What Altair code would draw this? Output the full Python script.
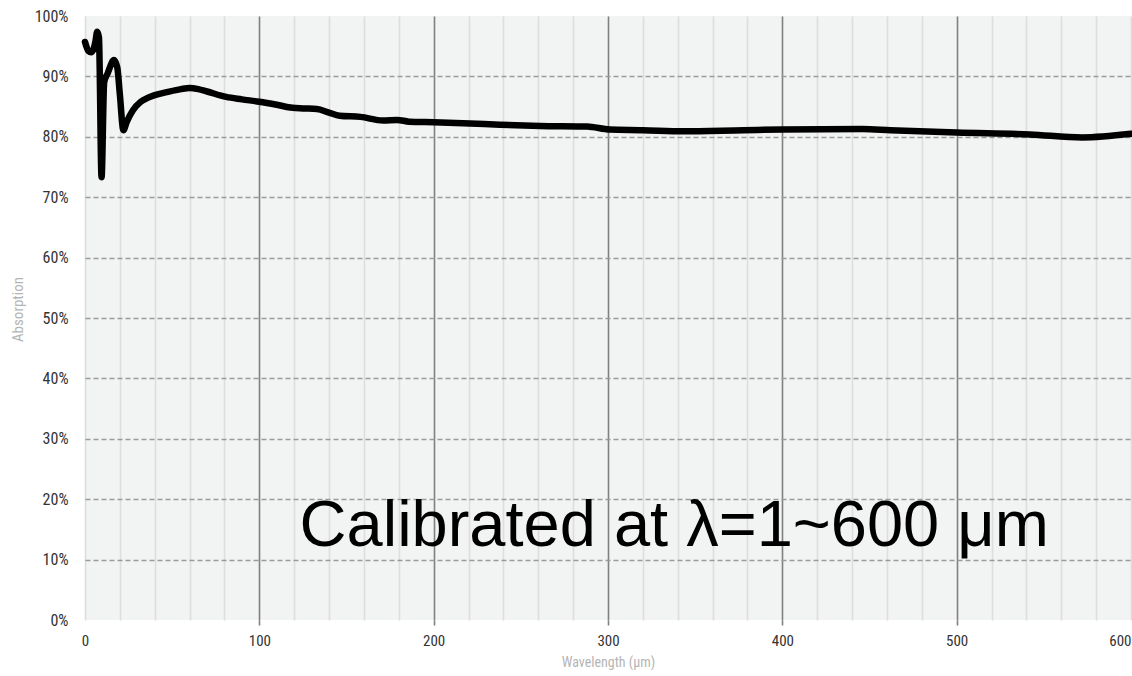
import altair as alt
import pandas as pd

wavelength = [0, 2, 3.5, 5, 6, 7, 8, 9.5, 11, 13, 16.6, 18.5, 20, 22, 24, 27.5, 32, 35.6, 40, 47, 55, 60,
              65, 70, 81, 90, 100, 110, 119, 125, 133, 140, 146, 158, 171, 179, 186, 200, 221, 238, 261,
              288, 301, 320, 343, 378, 400, 446, 462, 500, 542, 572, 600]
absorption = [95.7, 94.2, 94.0, 94.6, 95.8, 97.4, 96.5, 73.3, 89.0, 90.5, 92.7, 91.5, 87.0, 81.1, 82.5, 84.4,
              85.8, 86.4, 86.9, 87.4, 87.9, 88.1, 87.9, 87.5, 86.6, 86.2, 85.8, 85.3, 84.8, 84.7, 84.6, 84.0,
              83.5, 83.3, 82.7, 82.8, 82.5, 82.4, 82.2, 82.0, 81.8, 81.7, 81.2, 81.1, 80.9, 81.1, 81.2, 81.3,
              81.1, 80.7, 80.4, 79.9, 80.5]

x_ticks = list(range(0, 601, 20))
y_ticks = list(range(0, 101, 10))
annotation = ["Calibrated at \u03bb=1~600 \u03bcm"]
annotation_x = [338]
annotation_y = [15.5]

df = pd.DataFrame({"wl": wavelength, "ab": absorption})
ann = pd.DataFrame({"t": annotation, "x": annotation_x, "y": annotation_y})

label_font = "Liberation Sans Narrow, Roboto Condensed, DejaVu Sans Condensed, sans-serif"

x_scale = alt.Scale(domain=[0, 600], nice=False, zero=False)
y_scale = alt.Scale(domain=[0, 100], nice=False)

x_axis = alt.Axis(
    values=x_ticks,
    tickCount=100,
    title="Wavelength (\u03bcm)",
    labelExpr="datum.value % 100 === 0 ? datum.label : ''",
    labelOverlap=False,
    labelFlush=False,
    labelAlign={"condition": {"test": "datum.value === 600", "value": "right"}, "value": "center"},
    grid=True,
    gridColor={"condition": {"test": "datum.value % 100 === 0 && datum.value > 0 && datum.value < 600",
                             "value": "#808080"},
               "value": "#dddddd"},
    gridWidth=1.6,
    tickColor={"condition": {"test": "datum.value % 100 === 0 && datum.value > 0 && datum.value < 600",
                             "value": "#808080"},
               "value": "transparent"},
    tickSize=5,
    tickWidth=1.6,
    domain=False,
    labelPadding=8,
    labelFontSize=15,
    labelFont=label_font,
    labelColor="#333333",
    titleFont=label_font,
    titleFontSize=14,
    titleFontWeight="normal",
    titleColor="#b5b5b5",
    titlePadding=7,
)

y_axis = alt.Axis(
    values=y_ticks,
    tickCount=100,
    title="Absorption",
    labelExpr="datum.value + '%'",
    labelOverlap=False,
    grid=True,
    gridColor={"condition": {"test": "datum.value === 0 || datum.value === 100", "value": "transparent"},
               "value": "#9a9a9a"},
    gridDash=[5, 3],
    gridWidth=1.6,
    ticks=False,
    domain=False,
    labelPadding=17,
    labelFontSize=16,
    labelFont=label_font,
    labelColor="#333333",
    titleFont=label_font,
    titleFontSize=15,
    titleFontWeight="normal",
    titleColor="#b5b5b5",
    titleX=-60,
    titleY=293,
)

line = alt.Chart(df).mark_line(color="#000000", strokeWidth=6.5, strokeJoin="round", strokeCap="round",
                               interpolate="monotone").encode(
    x=alt.X("wl:Q", scale=x_scale, axis=x_axis),
    y=alt.Y("ab:Q", scale=y_scale, axis=y_axis),
)

text = alt.Chart(ann).mark_text(font="Liberation Sans", fontSize=65, color="#000000", align="center",
                                baseline="middle").encode(
    x=alt.X("x:Q", scale=x_scale),
    y=alt.Y("y:Q", scale=y_scale),
    text="t:N",
)

chart = (line + text).properties(
    width=1046,
    height=604,
    autosize=alt.AutoSizeParams(type="none"),
    padding={"left": 85, "top": 16, "right": 1, "bottom": 56},
    background="#ffffff",
).configure_view(fill="#f2f3f3", stroke=None)

chart.save("out.html", embed_options={"renderer": "svg", "actions": False})
